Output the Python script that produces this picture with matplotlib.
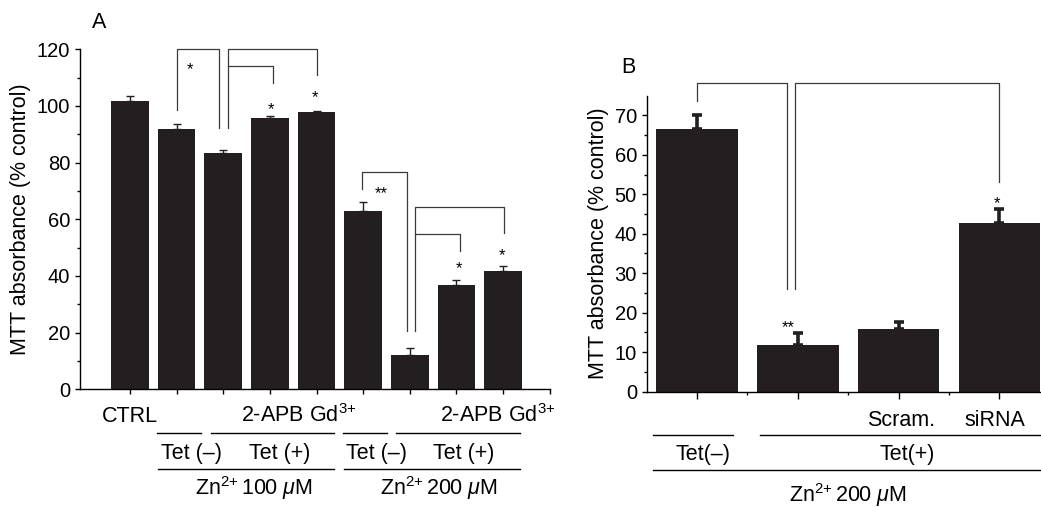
import numpy as np
import matplotlib
matplotlib.use('Agg')
from matplotlib import pyplot as plt
from matplotlib.transforms import blended_transform_factory

plt.rcParams['font.family'] = ['Liberation Sans', 'DejaVu Sans']
plt.rcParams['mathtext.fontset'] = 'custom'
plt.rcParams['mathtext.rm'] = 'Liberation Sans'
plt.rcParams['mathtext.it'] = 'Liberation Sans:italic'
plt.rcParams['font.size'] = 15

# panel A data
a_vals = [101.9, 91.9, 83.3, 95.8, 97.8, 62.8, 12.2, 36.8, 41.6]
a_err = [1.7, 1.8, 1.0, 0.6, 0.4, 3.3, 2.4, 1.8, 2.0]
# panel B data
b_vals = [66.6, 11.9, 15.9, 42.6]
b_err = [3.6, 2.9, 1.6, 3.6]

BAR = '#231f20'
BRK = '#3a3a3a'
W, H = 1041, 507
FS = 15.5
TFS = 14.5

fig = plt.figure(figsize=(W / 100, H / 100), dpi=100)

def fy(py):
    return 1 - py / H

def style_axes(ax):
    for s in ['top', 'right']:
        ax.spines[s].set_visible(False)
    for s in ['left', 'bottom']:
        ax.spines[s].set_linewidth(1.0)

def bracket(ax, x1, y1, ytop, x2, y2):
    ax.plot([x1, x1, x2, x2], [y1, ytop, ytop, y2], color=BRK, lw=0.9, clip_on=False)

# ---------------- panel A ----------------
axA = fig.add_axes([80 / W, fy(389.3), (549.8 - 80) / W, (389.3 - 49.3) / H])
xa = np.arange(len(a_vals))
axA.bar(xa, a_vals, width=0.81, color=BAR)
axA.errorbar(xa, a_vals, yerr=[np.zeros(len(a_err)), a_err], fmt='none',
             ecolor=BAR, elinewidth=1.0, capsize=2.8, capthick=1.0)
axA.set_xlim(-1.07, 9)
axA.set_ylim(0, 120)
axA.set_xticks(np.arange(0, 10))
axA.set_xticklabels([])
axA.set_yticks(np.arange(0, 121, 20))
axA.set_yticks(np.arange(10, 120, 20), minor=True)
axA.tick_params(axis='both', which='major', direction='out', length=3.5, width=1.0, labelsize=TFS)
axA.tick_params(axis='y', which='minor', direction='out', length=2.2, width=1.0)
axA.set_ylabel('MTT absorbance (% control)', fontsize=FS, labelpad=4)
style_axes(axA)

bracket(axA, 1.0, 98.5, 120, 1.92, 92.3)
bracket(axA, 2.10, 92.3, 120, 4.01, 111.0)
bracket(axA, 2.10, 114.1, 114.1, 3.07, 108.1)
bracket(axA, 4.97, 70.6, 76.7, 5.93, 20.6)
bracket(axA, 6.12, 20.6, 64.2, 8.01, 55.0)
bracket(axA, 6.12, 54.8, 54.8, 7.07, 48.7)
for x, y, s in [(1.29, 112.7, '*'), (3.03, 98.7, '*'), (3.97, 102.8, '*'),
                (5.39, 69.1, '**'), (7.05, 42.5, '*'), (7.97, 47.2, '*')]:
    axA.text(x, y, s, ha='center', va='center', fontsize=12)

tA = blended_transform_factory(axA.transData, fig.transFigure)
row1_a = [(0.0, 'CTRL'), (3.62, '2-APB Gd$^{3{+}}$'), (7.88, '2-APB Gd$^{3{+}}$')]
for x, s in row1_a:
    fig.text(x, fy(422.3), s, transform=tA, ha='center', va='baseline', fontsize=FS)
for x1, x2 in [(0.58, 1.52), (1.74, 4.38), (4.56, 5.50), (5.70, 8.36)]:
    fig.add_artist(plt.Line2D([x1, x2], [fy(432.7)] * 2, transform=tA, color='black', lw=1.0))
for x, s in [(1.31, 'Tet (–)'), (3.2, 'Tet (+)'), (5.29, 'Tet (–)'), (7.16, 'Tet (+)')]:
    fig.text(x, fy(458.7), s, transform=tA, ha='center', va='baseline', fontsize=FS)
for x1, x2 in [(0.61, 4.38), (4.59, 8.36)]:
    fig.add_artist(plt.Line2D([x1, x2], [fy(469.3)] * 2, transform=tA, color='black', lw=1.0))
for x, s in [(2.66, 'Zn$^{2{+}}\\,$100 $\\mu$M'), (6.63, 'Zn$^{2{+}}\\,$200 $\\mu$M')]:
    fig.text(x, fy(495), s, transform=tA, ha='center', va='baseline', fontsize=FS)

fig.text(99 / W, fy(23), 'A', ha='center', va='center', fontsize=FS)

# ---------------- panel B ----------------
axB = fig.add_axes([646.7 / W, fy(391.5), (1049.8 - 646.7) / W, (391.5 - 95.7) / H])
xb = np.arange(len(b_vals))
axB.bar(xb, b_vals, width=0.81, color=BAR)
axB.errorbar(xb, b_vals, yerr=[np.zeros(len(b_err)), b_err], fmt='none',
             ecolor=BAR, elinewidth=2.6, capsize=3.4, capthick=2.6)
axB.set_xlim(-0.5, 3.5)
axB.set_ylim(0, 75)
axB.set_xticks(xb)
axB.set_xticklabels([])
axB.set_xticks([0.5, 1.5, 2.5], minor=True)
axB.set_yticks(np.arange(0, 71, 10))
axB.set_yticks(np.arange(5, 75, 10), minor=True)
axB.tick_params(axis='x', which='major', direction='out', length=4.8, width=1.0)
axB.tick_params(axis='x', which='minor', direction='out', length=2.2, width=1.0)
axB.tick_params(axis='y', which='major', direction='out', length=3.5, width=1.0, labelsize=TFS)
axB.tick_params(axis='y', which='minor', direction='out', length=2.2, width=1.0)
axB.set_ylabel('MTT absorbance (% control)', fontsize=FS, labelpad=4)
style_axes(axB)

bracket(axB, 0.0, 73.6, 78.3, 0.89, 26.1)
bracket(axB, 0.97, 26.1, 78.3, 3.0, 53.2)
axB.text(0.90, 16.3, '**', ha='center', va='center', fontsize=12)
axB.text(2.98, 47.7, '*', ha='center', va='center', fontsize=12)

tB = blended_transform_factory(axB.transData, fig.transFigure)
for x, s in [(2.02, 'Scram.'), (2.96, 'siRNA')]:
    fig.text(x, fy(425.7), s, transform=tB, ha='center', va='baseline', fontsize=FS)
for x1, x2 in [(-0.44, 0.36), (0.62, 3.5)]:
    fig.add_artist(plt.Line2D([x1, x2], [fy(435)] * 2, transform=tB, color='black', lw=1.0))
for x, s in [(0.06, 'Tet(–)'), (2.08, 'Tet(+)')]:
    fig.text(x, fy(460), s, transform=tB, ha='center', va='baseline', fontsize=FS)
fig.add_artist(plt.Line2D([-0.44, 3.5], [fy(470)] * 2, transform=tB, color='black', lw=1.0))
fig.text(1.5, fy(501.7), 'Zn$^{2{+}}\\,$200 $\\mu$M', transform=tB, ha='center', va='baseline', fontsize=FS)

fig.text(628 / W, fy(67.5), 'B', ha='center', va='center', fontsize=FS)

fig.savefig('out.png', dpi=100)
